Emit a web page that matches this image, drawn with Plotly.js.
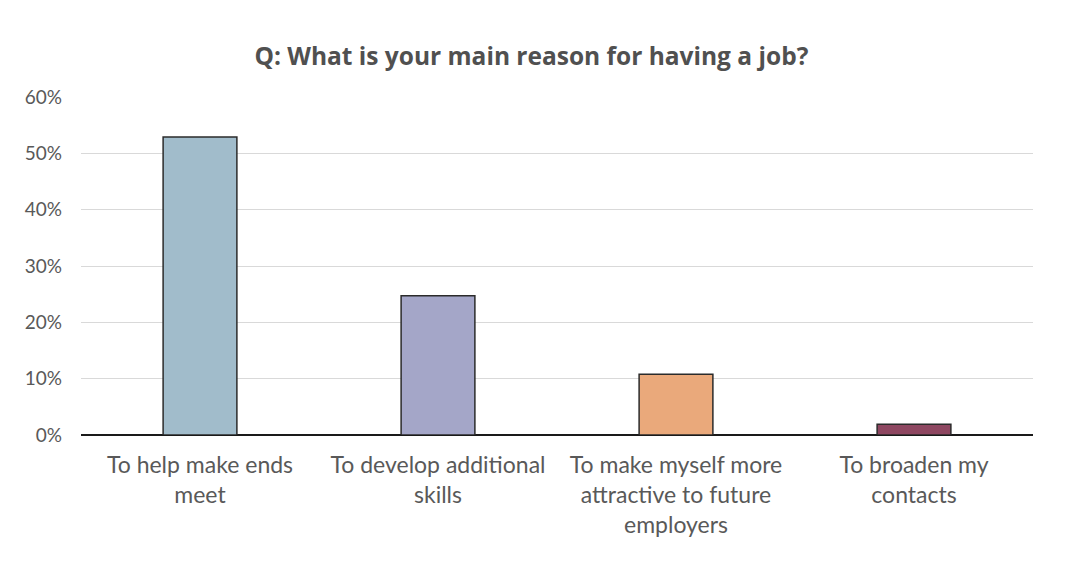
<!DOCTYPE html>
<html>
<head>
<meta charset="utf-8">
<script src="https://cdn.plot.ly/plotly-3.0.1.min.js"></script>
<style>html,body{margin:0;padding:0;background:#fff;}#chart{width:1080px;height:568px;}</style>
</head>
<body>
<div id="chart"></div>
<script>
const categories = ["To help make ends<br>meet", "To develop additional<br>skills", "To make myself more<br>attractive to future<br>employers", "To broaden my<br>contacts"];
const values = [0.529, 0.247, 0.108, 0.019];
const barColors = ["#a1bccb", "#a4a6c8", "#eaa97b", "#8e4761"];
const yTicks = [0, 0.1, 0.2, 0.3, 0.4, 0.5, 0.6];

const trace = {
  type: "bar",
  x: categories,
  y: values,
  width: 0.31,
  marker: {color: barColors, line: {color: "#2b2b2b", width: 1.5}},
  hoverinfo: "none"
};

const layout = {
  width: 1080, height: 568,
  margin: {l: 81, r: 47, t: 97, b: 133},
  paper_bgcolor: "#fff", plot_bgcolor: "#fff",
  font: {family: "Lato, 'Open Sans', sans-serif", color: "#595959"},
  title: {text: "<b>Q: What is your main reason for having a job?</b>", x: 0.492, xanchor: "center", y: 0.9, yanchor: "middle",
          font: {size: 24.5, color: "#505050", family: "'Open Sans', Lato, sans-serif"}},
  xaxis: {tickfont: {size: 23, color: "#595959"}, showgrid: false, showline: false, ticks: "", zeroline: false,
          ticklabelstandoff: 14},
  yaxis: {range: [0, 0.6], tickvals: yTicks, tickformat: ".0%", tickfont: {size: 19, color: "#595959"},
          showgrid: true, gridcolor: "#d9d9d9", gridwidth: 1, zeroline: true, zerolinecolor: "#1a1a1a", zerolinewidth: 1.5,
          ticks: "", ticklabelstandoff: 18},
  showlegend: false,
  bargap: 0.69
};

Plotly.newPlot("chart", [trace], layout, {displayModeBar: false, staticPlot: true});
</script>
</body>
</html>
